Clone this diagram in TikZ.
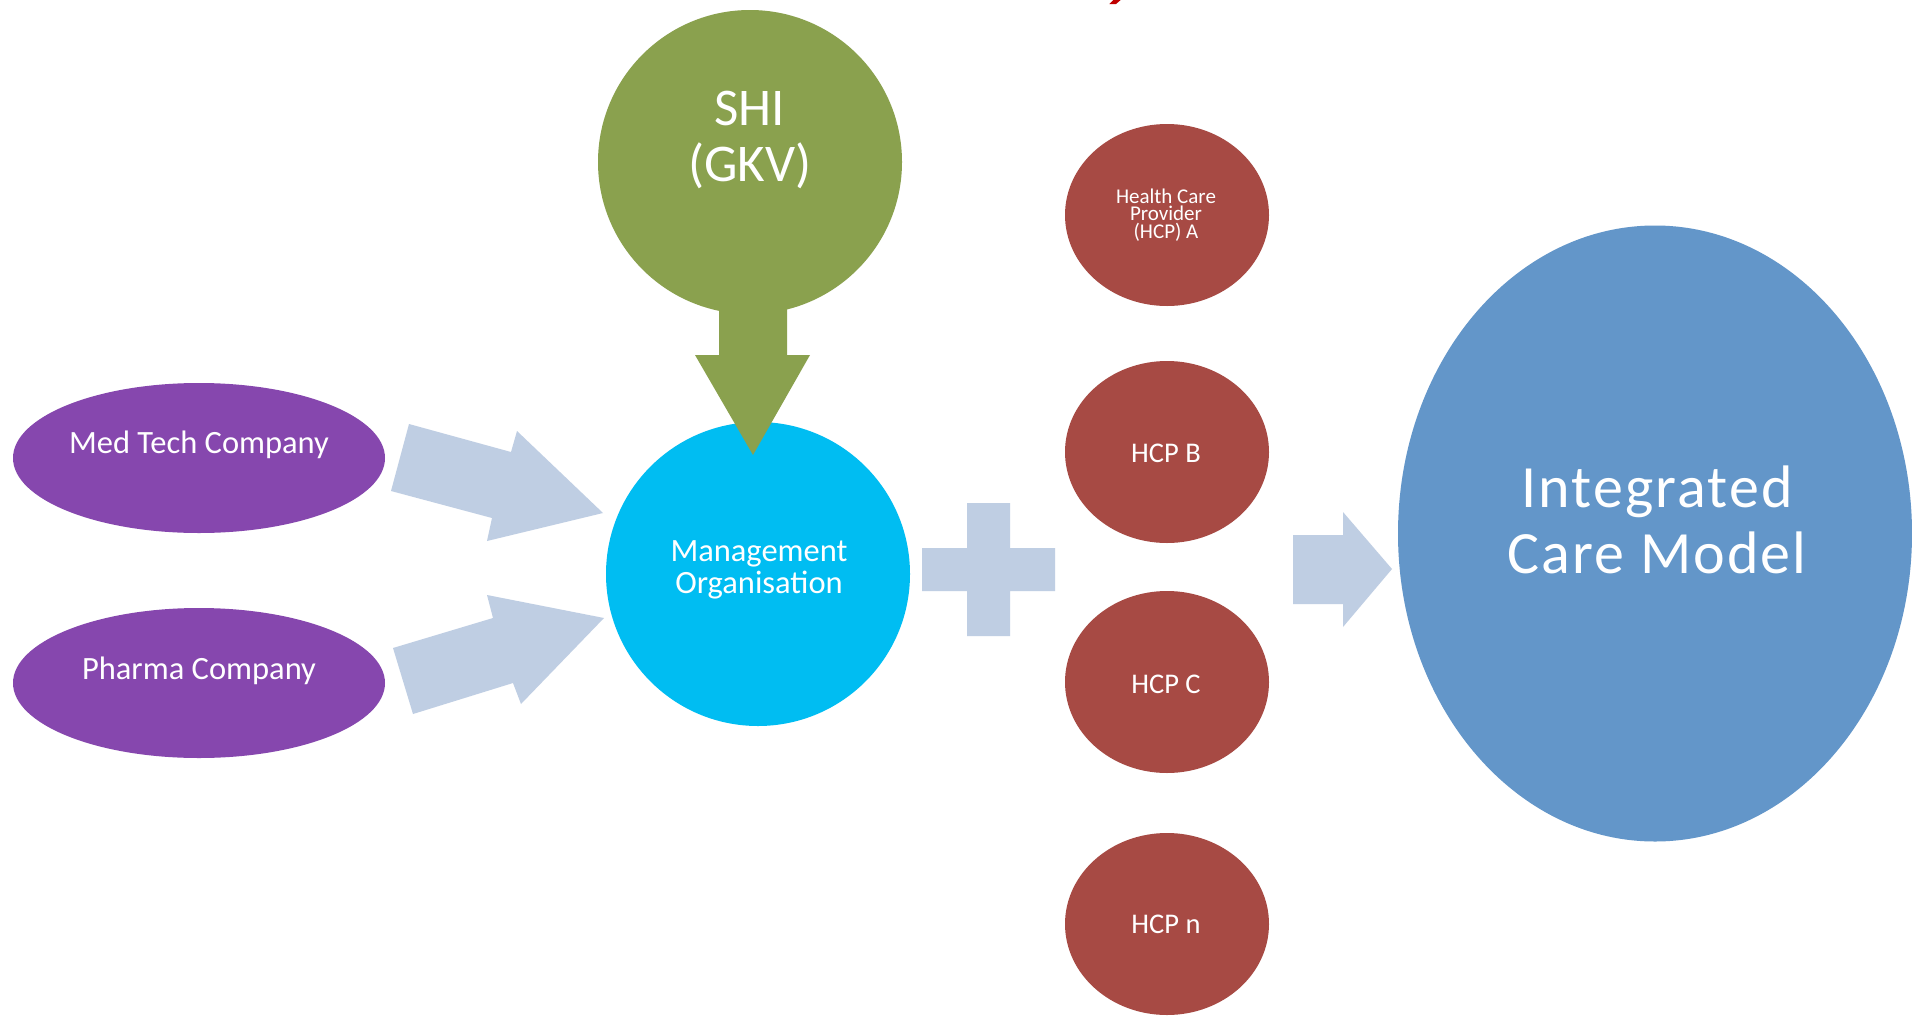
\documentclass[tikz,border=0pt]{standalone}
\usepackage{fontspec}
\setmainfont{Carlito}
\usetikzlibrary{shapes.geometric}
\definecolor{shigreen}{HTML}{8AA14E}
\definecolor{mocyan}{HTML}{00BDF2}
\definecolor{compurple}{HTML}{8647AE}
\definecolor{hcpred}{HTML}{A74A44}
\definecolor{icmblue}{HTML}{6396C9}
\definecolor{arrowblue}{HTML}{BFCEE3}
\definecolor{titlered}{HTML}{C00000}
\begin{document}
\begin{tikzpicture}[x=1pt,y=-1pt,
  blob/.style={ellipse, inner sep=0pt, outer sep=0pt, draw=none},
  txt/.style={text=white, align=center, inner sep=0pt, outer sep=0pt},
  blockarrow/.style={fill=arrowblue, draw=none}]
\useasboundingbox (0,0) rectangle (1912,1015);
\fill[white] (0,0) rectangle (1912,1015);

% fragment of cut-off title
\fill[titlered] (1113.3,0) -- (1120.7,0) -- (1116,4) -- (1109.3,4) -- cycle;

% shapes
\node[blob, fill=shigreen, minimum width=304pt, minimum height=304pt] (shi) at (750,162) {};
\node[blob, fill=mocyan, minimum width=304pt, minimum height=304pt] (mo) at (758,574) {};
\node[blob, fill=compurple, minimum width=372pt, minimum height=150pt] (medtech) at (199,458) {};
\node[blob, fill=compurple, minimum width=372pt, minimum height=150pt] (pharma) at (199,683) {};
\node[blob, fill=hcpred, minimum width=204pt, minimum height=182pt] (hcpa) at (1167,215) {};
\node[blob, fill=hcpred, minimum width=204pt, minimum height=182pt] (hcpb) at (1167,452) {};
\node[blob, fill=hcpred, minimum width=204pt, minimum height=182pt] (hcpc) at (1167,682) {};
\node[blob, fill=hcpred, minimum width=204pt, minimum height=182pt] (hcpn) at (1167,924) {};
\node[blob, fill=icmblue, minimum width=514pt, minimum height=616pt] (icm) at (1655,533.5) {};

% SHI down arrow
\fill[shigreen] (719,290) -- (719,355) -- (695,355) -- (753,455) -- (810,355) -- (787,355) -- (787,290) -- cycle;

% light block arrows
\fill[blockarrow] (409,424) -- (511,452) -- (517,431) -- (603,513) -- (487,541) -- (492,518) -- (391,491) -- cycle;
\fill[blockarrow] (393,648) -- (493,618) -- (487,595) -- (604,618) -- (521,704) -- (513,683) -- (413,714) -- cycle;
\fill[blockarrow] (967,503) -- (1010,503) -- (1010,548) -- (1055,548) -- (1055,591) -- (1010,591) -- (1010,636) -- (967,636) -- (967,591) -- (922,591) -- (922,548) -- (967,548) -- cycle;
\fill[blockarrow] (1293,535) -- (1343,535) -- (1343,512) -- (1392,569) -- (1343,627) -- (1343,604) -- (1293,604) -- cycle;

% texts
\node[txt, font=\fontsize{53}{56}\selectfont] (shit) at (750,139.5) {SHI\\(GKV)};
\node[txt, font=\fontsize{32.5}{31.5}\selectfont] (mot) at (759,570) {Management\\Organisation};
\node[txt, font=\fontsize{32.5}{31}\selectfont] (medtecht) at (199,445) {Med Tech Company};
\node[txt, font=\fontsize{32.5}{31}\selectfont] (pharmat) at (199,671) {Pharma Company};
\node[txt, font=\fontsize{21}{17.5}\selectfont] (hcpat) at (1166,215) {Health Care\\Provider\\(HCP) A};
\node[txt, font=\fontsize{28.5}{27}\selectfont] (hcpbt) at (1166,453) {HCP B};
\node[txt, font=\fontsize{28.5}{27}\selectfont] (hcpct) at (1166,684) {HCP C};
\node[txt, font=\fontsize{28.5}{27}\selectfont] (hcpnt) at (1166,924.5) {HCP n};
\node[txt, font=\fontsize{60}{66}\selectfont\addfontfeature{LetterSpace=3.5}] (icmt) at (1657,520) {Integrated\\Care Model};
\end{tikzpicture}
\end{document}
